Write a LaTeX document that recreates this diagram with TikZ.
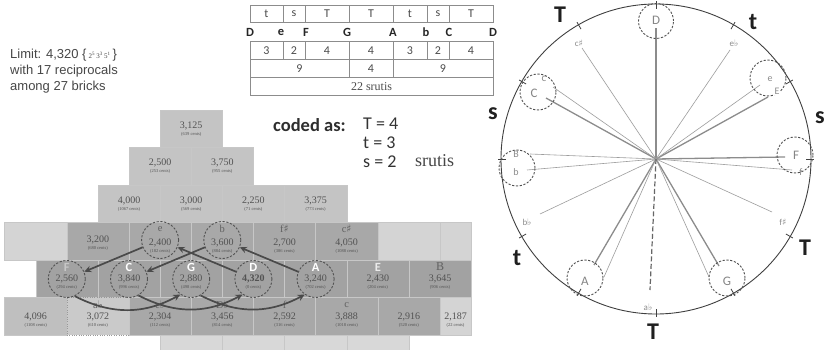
\documentclass[tikz,border=0pt]{standalone}
\usepackage{fontspec}
\setmainfont{Liberation Serif}
\newfontfamily\carl{Carlito}
\newfontfamily\arial{Liberation Sans}
\newfontfamily\dvs{DejaVu Sans}
\usetikzlibrary{arrows.meta}
\definecolor{topb}{HTML}{C4C4C4}
\definecolor{actb}{HTML}{A8A8A8}
\definecolor{rowf}{HTML}{A2A2A2}
\definecolor{lowb}{HTML}{A8A8A8}
\definecolor{blankb}{HTML}{D4D4D4}
\definecolor{bfour}{HTML}{BFBFBF}
\definecolor{bthree}{HTML}{CACACA}
\definecolor{botb}{HTML}{D8D8D8}
\definecolor{arrc}{HTML}{4A4A4A}
\definecolor{lnc}{HTML}{8C8C8C}
\newcommand\shp{{\dvs ♯}}
\newcommand\flt{{\dvs ♭}}
\newcommand\bk[7]{\node[brk,fill=#4] (#1) at (#2,#3) {};
  \node[btxt] (#1t) at (#2,#7) {#5\\[-3pt]{\fontsize{4.5}{5}\selectfont(#6)}};}
\tikzset{
  brk/.style={draw=black!22, line width=0.35pt, minimum width=62.2pt, minimum height=37.5pt, inner sep=0pt},
  btxt/.style={inner sep=0pt, align=center, font=\fontsize{10}{10}\selectfont, text=black!68},
  halfbrk/.style={brk, minimum width=31.1pt},
  ltr/.style={font=\fontsize{10.5}{10}\selectfont, text=black!62, inner sep=0pt},
  wltr/.style={font=\carl\bfseries\fontsize{12.5}{12}\selectfont, text=white, inner sep=0pt},
  dcirc/.style={circle, draw=black!68, dash pattern=on 2.2pt off 1.6pt, line width=0.9pt, minimum size=37pt, inner sep=0pt},
  arr/.style={draw=arrc, line width=1.7pt, -{Stealth[length=7pt,width=6.5pt]}},
  cell/.style={draw=black!45, line width=0.5pt, fill=white, inner sep=0pt, font=\carl\fontsize{12}{12}\selectfont, text=black!70},
  tletter/.style={font=\carl\bfseries\fontsize{12.5}{12}\selectfont, text=black!85, inner sep=0pt},
  mainln/.style={draw=lnc, line width=1.3pt},
  minorln/.style={draw=lnc!85, line width=0.6pt},
  nlab/.style={font=\carl\fontsize{13}{13}\selectfont, text=black!48, inner sep=0.5pt},
  slab/.style={font=\carl\fontsize{9}{9}\selectfont, text=black!45, inner sep=0.5pt},
  biglab/.style={font=\carl\bfseries\fontsize{24}{24}\selectfont, text=black!88, inner sep=0pt},
}
\begin{document}
\begin{tikzpicture}[x=1pt,y=-1pt]
\useasboundingbox (0,0) rectangle (825,350);
\fill[white] (0,0) rectangle (825,350);

% ---------- top-left text ----------
\node[anchor=west, font=\arial\fontsize{13}{13}\selectfont, text=black!72, inner sep=0pt] (lim1) at (10,55) {Limit: 4,320 \{\,{\rmfamily\fontsize{7}{7}\selectfont 2\textsuperscript{5}\,3\textsuperscript{3}\,5\textsuperscript{1}}\,\}};
\node[anchor=west, font=\arial\fontsize{13}{13}\selectfont, text=black!72, inner sep=0pt] (lim2) at (10,71) {with 17 reciprocals};
\node[anchor=west, font=\arial\fontsize{13}{13}\selectfont, text=black!72, inner sep=0pt] (lim3) at (10,87) {among 27 bricks};

% ---------- table ----------
\foreach \c/\w/\t [count=\i] in {266.5/33pt/t,294/22pt/s,327/44pt/T,371/44pt/T,410/34pt/t,438/22pt/s,471/44pt/T}
  \node[cell, minimum width=\w, minimum height=17pt] (ta\i) at (\c,13.5) {\t};
\foreach \x/\t [count=\i] in {250/D,281/e,306/F,347/G,393/A,426/b,449/C,493/D}
  \node[tletter] (tl\i) at (\x,32) {\t};
\foreach \c/\w/\t [count=\i] in {266.5/33pt/3,294/22pt/2,327/44pt/4,371/44pt/4,410/34pt/3,438/22pt/2,471/44pt/4}
  \node[cell, minimum width=\w, minimum height=17.5pt] (tb\i) at (\c,50.5) {\t};
\foreach \c/\w/\t [count=\i] in {299.5/99pt/9,371/44pt/4,443/100pt/9}
  \node[cell, minimum width=\w, minimum height=18pt] (tc\i) at (\c,68.5) {\t};
\node[cell, minimum width=243pt, minimum height=18pt, font=\fontsize{12}{12}\selectfont] (td1) at (371.5,86.5) {22 srutis};

% ---------- coded as ----------
\node[anchor=west, font=\carl\bfseries\fontsize{18.5}{18}\selectfont, text=black!82, inner sep=0pt] (coded) at (273,125) {coded as:};
\node[anchor=west, font=\carl\fontsize{18}{18}\selectfont, text=black!80, inner sep=0pt] (cT) at (363,124) {T = 4};
\node[anchor=west, font=\carl\fontsize{18}{18}\selectfont, text=black!80, inner sep=0pt] (ct) at (363,143) {t = 3};
\node[anchor=west, font=\carl\fontsize{18}{18}\selectfont, text=black!80, inner sep=0pt] (cs) at (363,162) {s = 2};
\node[anchor=west, font=\fontsize{18}{18}\selectfont, text=black!72, inner sep=0pt] (sru) at (415,161) {srutis};

% ---------- brick wall ----------
\bk{b3125}{191.2}{128.75}{topb}{3,125}{639 cents}{129}
\bk{b2500}{160.1}{166.25}{topb}{2,500}{253 cents}{166.5}
\bk{b3750}{222.3}{166.25}{topb}{3,750}{955 cents}{166.5}
\bk{b4000}{129.0}{203.75}{topb}{4,000}{1067 cents}{204}
\bk{b3000}{191.2}{203.75}{topb}{3,000}{569 cents}{204}
\bk{b2250}{253.4}{203.75}{topb}{2,250}{71 cents}{204}
\bk{b3375}{315.6}{203.75}{topb}{3,375}{773 cents}{204}
% row 4
\node[brk, fill=blankb] (bl1) at (35.7,241.25) {};
\bk{b3200}{97.9}{241.25}{actb}{3,200}{680 cents}{243}
\bk{b2400}{160.1}{241.25}{actb}{2,400}{182 cents}{246}
\bk{b3600}{222.3}{241.25}{actb}{3,600}{884 cents}{246}
\bk{b2700}{284.5}{241.25}{actb}{2,700}{386 cents}{246}
\bk{b4050}{346.7}{241.25}{actb}{4,050}{1088 cents}{246}
\node[brk, fill=blankb] (bl2) at (408.9,241.25) {};
\node[halfbrk, fill=blankb] (bl3) at (455.55,241.25) {};
% row 5
\bk{b2560}{66.8}{278.75}{rowf}{2,560}{294 cents}{282}
\bk{b3840}{129.0}{278.75}{rowf}{3,840}{996 cents}{282}
\bk{b2880}{191.2}{278.75}{rowf}{2,880}{498 cents}{282}
\node[brk, fill=rowf] (b4320) at (253.4,278.75) {};
\node[btxt] (b4320t) at (253.4,282) {\textbf{4,320}\\[-3pt]{\fontsize{4.5}{5}\selectfont(0 cents)}};
\bk{b3240}{315.6}{278.75}{rowf}{3,240}{702 cents}{282}
\bk{b2430}{377.8}{278.75}{rowf}{2,430}{204 cents}{282}
\bk{b3645}{440.0}{278.75}{rowf}{3,645}{906 cents}{282}
% row 6
\bk{b4096}{35.7}{316.25}{bfour}{4,096}{1108 cents}{320}
\node[brk, fill=bthree, draw=black!40, dotted] (b3072) at (97.9,316.25) {};
\node[btxt] (b3072t) at (97.9,320) {3,072\\[-3pt]{\fontsize{4.5}{5}\selectfont(610 cents)}};
\bk{b2304}{160.1}{316.25}{lowb}{2,304}{112 cents}{320}
\bk{b3456}{222.3}{316.25}{lowb}{3,456}{814 cents}{320}
\bk{b2592}{284.5}{316.25}{lowb}{2,592}{316 cents}{320}
\bk{b3888}{346.7}{316.25}{lowb}{3,888}{1018 cents}{320}
\bk{b2916}{408.9}{316.25}{lowb}{2,916}{520 cents}{320}
\node[halfbrk, fill=blankb] (b2187) at (455.55,316.25) {};
\node[btxt] (b2187t) at (455.55,320) {2,187\\[-3pt]{\fontsize{4.5}{5}\selectfont(22 cents)}};
% row 7 (cut)
\foreach \x [count=\i] in {191.2,253.4,315.6,377.8}
  \node[brk, fill=botb, minimum height=15pt] (bt\i) at (\x,342.5) {};

% letters
\node[ltr] (lte) at (160.1,229) {e};
\node[ltr] (ltb) at (222.3,229) {b};
\node[ltr] (ltfs) at (284.5,229) {f\shp};
\node[ltr] (ltcs) at (346.7,229) {c\shp};
\node[wltr, text=black!22] (ltF) at (66.8,267) {F};
\node[wltr] (ltC) at (129.0,267) {C};
\node[wltr] (ltG) at (191.2,267) {G};
\node[wltr] (ltD) at (253.4,267) {D};
\node[wltr] (ltA) at (315.6,267) {A};
\node[wltr, text=white!92!black] (ltE) at (377.8,267) {E};
\node[ltr, font=\fontsize{12}{12}\selectfont] (ltB) at (440.0,267) {B};
\node[ltr] (ltab) at (97.9,305) {a\flt};
\node[ltr] (lteb) at (160.1,305) {e\flt};
\node[ltr] (ltDb) at (222.3,305) {D\flt};
\node[ltr] (ltf) at (284.5,305) {f};
\node[ltr] (ltc) at (346.7,305) {c};

% dashed circles
\node[dcirc] (ce) at (160.1,240) {};
\node[dcirc] (cb) at (222.3,240) {};
\node[dcirc] (cF) at (66.8,279) {};
\node[dcirc] (cC) at (129.0,279) {};
\node[dcirc] (cG) at (191.2,279) {};
\node[dcirc] (cD) at (253.4,279) {};
\node[dcirc] (cA) at (315.6,279) {};

% arrows
\draw[arr] (ce) -- (cF);
\draw[arr] (cb) -- (cC);
\draw[arr] (cD) -- (ce);
\draw[arr] (cA) -- (cb);
\draw[arr] (cF.-65) to[bend right=28] (cG.-125);
\draw[arr] (cC.-60) to[bend right=28] (cD.-125);
\draw[arr] (cG.-60) to[bend right=28] (cA.-125);

% ---------- circle ----------
\begin{scope}[shift={(656,159)}, y=1pt]
\coordinate (O) at (0,0);
\draw[line width=0.9pt, draw=black!75] (O) circle[radius=155pt];
\foreach \a in {0,30,...,330} \draw[line width=0.8pt, draw=black!75] (\a:150) -- (\a:158);
\foreach \n/\x/\y in {D/0/131, C/-110/61, E/112/62, F/129/2, A/-62/-106, G/63/-107}{
  \coordinate (p\n) at (\x,\y);
  \draw[mainln] (O) -- (p\n);
}
\foreach \n/\x/\y in {cs/-74/111, eb/74/109, c/-103/72, e/104/74, B/-126/5, b/-129/-11, f/136/-11, bb/-116/-55, fs/116/-53, a/-52/-118, g/53/-118}{
  \coordinate (q\n) at (\x,\y);
  \draw[minorln] (O) -- (q\n);
}
\coordinate (pab) at (-6,-131);
\draw[draw=black!60, line width=1.2pt, dash pattern=on 5pt off 2.5pt] (O) -- (pab);

% dashed circles on the wheel
\node[dcirc, minimum size=35pt] (wD) at (0,138) {};
\node[dcirc, minimum size=36pt] (wE) at (112,81) {};
\node[dcirc, minimum size=36pt] (wC) at (-118,67) {};
\node[dcirc, minimum size=36pt] (wb) at (-139,-9) {};
\node[dcirc, minimum size=36pt] (wF) at (139,4) {};
\node[dcirc, minimum size=36pt] (wA) at (-71,-119) {};
\node[dcirc, minimum size=36pt] (wG) at (71,-119) {};

% note labels
\node[nlab] (lD) at (0,139) {D};
\node[nlab] (lC) at (-122,66) {C};
\node[slab, font=\carl\fontsize{11}{11}\selectfont] (lc) at (-112,80) {c};
\node[slab, font=\carl\fontsize{10}{10}\selectfont] (le) at (114,80) {e};
\node[slab, font=\carl\fontsize{10}{10}\selectfont, fill=white] (lE) at (121,68) {E};
\node[slab, font=\carl\fontsize{10}{10}\selectfont] (lB) at (-140,5) {B};
\node[slab, font=\carl\fontsize{10}{10}\selectfont] (lb) at (-140,-13) {b};
\node[nlab] (lF) at (140,4) {F};
\node[slab, font=\carl\fontsize{10}{10}\selectfont] (lf) at (145,-13) {f};
\node[slab] (lcs) at (-77,116) {c\shp};
\node[slab] (leb) at (78,116) {e\flt};
\node[slab] (lbb) at (-129,-63) {b\flt};
\node[slab] (lfs) at (127,-63) {f\shp};
\node[nlab] (lA) at (-71,-122) {A};
\node[nlab] (lG) at (71,-122) {G};
\node[slab] (lab) at (-8,-148) {a\flt};

% interval labels
\node[biglab] (iT1) at (-96,144) {T};
\node[biglab] (it1) at (97,137) {t};
\node[biglab] (is1) at (164,41) {s};
\node[biglab] (iT2) at (149,-89) {T};
\node[biglab] (iT3) at (-3,-173) {T};
\node[biglab] (it2) at (-139,-99) {t};
\node[biglab] (is2) at (-163,45) {s};
\end{scope}
\end{tikzpicture}
\end{document}
